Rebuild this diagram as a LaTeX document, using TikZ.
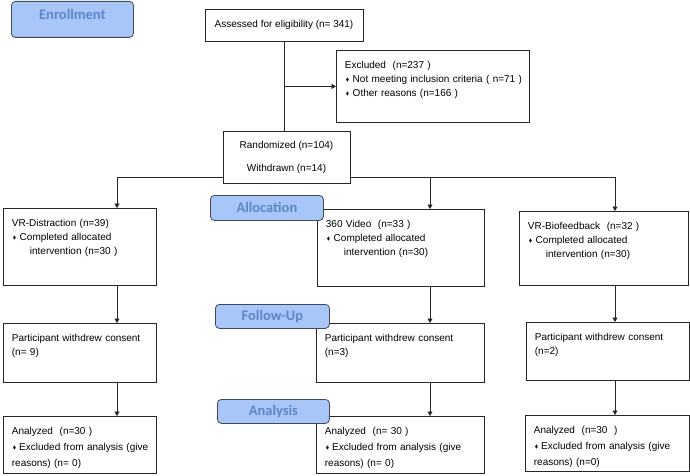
\documentclass[tikz,border=0pt]{standalone}
\usepackage{amssymb}
\usepackage{fontspec}
\setmainfont{Liberation Sans}
\newfontfamily\stagefont{Carlito}
\usepackage{tikz}
\usetikzlibrary{arrows.meta,positioning,calc}
\definecolor{stagefill}{HTML}{A9C6F8}
\definecolor{stageline}{HTML}{3F4A5C}
\definecolor{stagetext}{HTML}{5B87C9}
\newcommand{\bul}{\raisebox{1.2pt}{\scalebox{0.5}{$\blacklozenge$}}}
\tikzset{
  cbox/.style={draw=black!85, line width=0.8pt, anchor=north west, align=left, inner xsep=8.5pt, inner ysep=6pt, text height=12pt, font=\fontsize{10}{14}\selectfont},
  cboxmid/.style={draw=black!85, line width=0.8pt, align=center, inner sep=2pt, font=\fontsize{10}{14}\selectfont},
  cstage/.style={draw=stageline, fill=stagefill, line width=0.8pt, rounded corners=4pt, anchor=north west, inner sep=0pt, text=stagetext, font=\stagefont\bfseries\fontsize{14.5}{16}\selectfont},
  cline/.style={line width=0.8pt, draw=black!85},
  carrow/.style={-{Triangle[length=4.5pt,width=5pt]}, line width=0.8pt, draw=black!85}
}
\begin{document}
\begin{tikzpicture}[x=1pt,y=-1pt]
\useasboundingbox (0,0) rectangle (690,476);
% enrollment
\node[cboxmid, minimum width=158pt, minimum height=32pt] (assess) at (284,25) {Assessed for eligibility (n= 341)};
\node[cbox, text width=176pt, text depth=48pt] (excl) at (336,50) {Excluded\ \ (n=237 )\\
  \mbox{\hspace*{1pt}\bul\hspace{3.5pt}Not meeting inclusion criteria ( n=71 )}\\
  \mbox{\hspace*{1pt}\bul\hspace{3.5pt}Other reasons (n=166 )}};
\node[cboxmid, minimum width=127pt, minimum height=52pt] (rand) at (286.5,157) {Randomized (n=104)\\[9pt]Withdrawn (n=14)};
% allocation
\node[cbox, text width=136pt, text depth=53pt] (vrd) at (3,208) {VR-Distraction (n=39)\\
  \mbox{\hspace*{1pt}\bul\hspace{3.5pt}Completed allocated}\\
  \hspace*{18pt}intervention (n=30 )};
\node[cbox, text width=150pt, text depth=53pt] (vid) at (317,209) {360 Video\ \ (n=33 )\\
  \mbox{\hspace*{1pt}\bul\hspace{3.5pt}Completed allocated}\\
  \hspace*{18pt}intervention (n=30)};
\node[cbox, text width=152pt, text depth=50pt] (vrb) at (519,211) {VR-Biofeedback\ \ (n=32 )\\
  \mbox{\hspace*{1pt}\bul\hspace{3.5pt}Completed allocated}\\
  \hspace*{18pt}intervention (n=30)};
% follow-up
\node[cbox, text width=136pt, text depth=35pt] (pd1) at (3,323) {Participant withdrew consent\\(n= 9)};
\node[cbox, text width=151pt, text depth=35pt] (pd2) at (316,323) {Participant withdrew consent\\(n=3)};
\node[cbox, text width=146pt, text depth=34pt] (pd3) at (526,322) {Participant withdrew consent\\(n=2)};
% analysis
\node[cbox, text width=136pt, text depth=33pt, font=\fontsize{10}{16}\selectfont] (an1) at (3,416) {Analyzed\ \ (n=30 )\\
  \mbox{\hspace*{1pt}\bul\hspace{3pt}Excluded from analysis (give}\\
  reasons) (n= 0)};
\node[cbox, text width=151pt, text depth=33pt, font=\fontsize{10}{16}\selectfont] (an2) at (316,416) {Analyzed\ \ (n= 30 )\\
  \mbox{\hspace*{1pt}\bul\hspace{3pt}Excluded from analysis (give}\\
  reasons) (n= 0)};
\node[cbox, text width=147pt, text depth=32pt, font=\fontsize{10}{16}\selectfont] (an3) at (525,415) {Analyzed\ \ (n=30\ \ )\\
  \mbox{\hspace*{1pt}\bul\hspace{3pt}Excluded from analysis (give}\\
  reasons) (n=0)};
% stage labels
\node[cstage, minimum width=122pt, minimum height=36pt, text height=10pt, text depth=10pt] (enroll) at (11,1) {Enrollment};
\node[cstage, minimum width=113pt, minimum height=25pt] (alloc) at (210,195) {Allocation};
\node[cstage, minimum width=114pt, minimum height=24pt] (follow) at (215,304) {Follow-Up};
\node[cstage, minimum width=112pt, minimum height=24pt] (analys) at (217,399) {Analysis};
% connectors
\coordinate (c1) at (117,0);
\coordinate (c2) at (430,0);
\coordinate (c3) at (615,0);
\coordinate (rl) at ([yshift=6pt]rand.south west);
\coordinate (rr) at ([yshift=6pt]rand.south east);
\draw[cline] (assess.south) -- (assess.south |- rand.north);
\draw[carrow] (assess.south |- excl.west) -- (excl.west);
\draw[carrow] (rl) -| (c1 |- vrd.north);
\draw[carrow] (rr) -| (c2 |- vid.north);
\draw[carrow] (rr) -| (c3 |- vrb.north);
\draw[carrow] (c1 |- vrd.south) -- (c1 |- pd1.north);
\draw[carrow] (c2 |- vid.south) -- (c2 |- pd2.north);
\draw[carrow] (c3 |- vrb.south) -- (c3 |- pd3.north);
\draw[carrow] (c1 |- pd1.south) -- (c1 |- an1.north);
\draw[carrow] (c2 |- pd2.south) -- (c2 |- an2.north);
\draw[carrow] (c3 |- pd3.south) -- (c3 |- an3.north);
\end{tikzpicture}
\end{document}
